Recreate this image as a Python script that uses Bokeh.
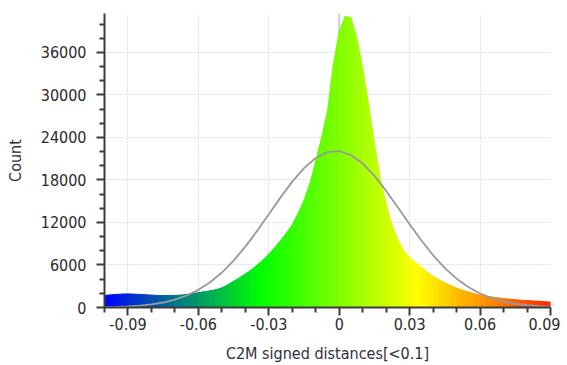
from bokeh.plotting import figure
from bokeh.models import FixedTicker, CustomJSTickFormatter, Span
from bokeh.embed import file_html
from bokeh.resources import INLINE

# ---------------- data ----------------
# histogram envelope (C2M signed distances), sampled every 0.0025 from -0.1
bin_start = -0.1
bin_step = 0.0025
hist_counts = [
    1700, 1780, 1850, 1900, 1920, 1890, 1850, 1800, 1750, 1710,
    1690, 1690, 1710, 1760, 1840, 1950, 2100, 2230, 2360, 2520,
    2780, 3200, 3700, 4200, 4750, 5300, 6000, 6700, 7550, 8450,
    9450, 10500, 11700, 13300, 15100, 17500, 20700, 24000, 27800, 34300,
    39000, 41100, 40900, 38000, 33700, 28700, 23200, 18100, 14600, 11600,
    9600, 8000, 7000, 6300, 5700, 5000, 4400, 3900, 3500, 3100,
    2750, 2450, 2200, 1950, 1750, 1600, 1480, 1360, 1250, 1170,
    1100, 1040, 980, 930, 880, 820, 760,
]

# fitted normal curve, read every 0.005 from -0.1
curve_start = -0.1
curve_step = 0.005
curve_counts = [
    45, 84, 150, 259, 434, 705, 1107, 1689, 2491, 3563,
    4931, 6611, 8588, 10803, 13167, 15543, 17771, 19678, 21106, 21928,
    22068, 21512, 20312, 18577, 16458, 14122, 11737, 9450, 7368, 5565,
    4073, 2886, 1980, 1317, 848, 528, 320, 187, 106,
]

x_ticks = [-0.09, -0.06, -0.03, 0.0, 0.03, 0.06, 0.09]
x_tick_labels = ["-0.09", "-0.06", "-0.03", "0", "0.03", "0.06", "0.09"]
x_minor = [-0.1, -0.08, -0.07, -0.05, -0.04, -0.02, -0.01,
           0.01, 0.02, 0.04, 0.05, 0.07, 0.08]
y_ticks = [0, 6000, 12000, 18000, 24000, 30000, 36000]
y_minor = [2000, 4000, 8000, 10000, 14000, 16000, 20000, 22000,
           26000, 28000, 32000, 34000, 38000, 40000]

# color scale (Blue > Green > Yellow > Red) over the displayed distance range
scale_min, scale_max = -0.1, 0.1
scale_stops = [(0.0, (0, 0, 255)), (1 / 3, (0, 255, 0)),
               (2 / 3, (255, 255, 0)), (1.0, (255, 0, 0))]


def scale_color(v):
    t = (v - scale_min) / (scale_max - scale_min)
    t = min(max(t, 0.0), 1.0)
    for (t0, c0), (t1, c1) in zip(scale_stops[:-1], scale_stops[1:]):
        if t <= t1:
            f = (t - t0) / (t1 - t0)
            r, g, b = (round(a + (bb - a) * f) for a, bb in zip(c0, c1))
            return "#%02x%02x%02x" % (r, g, b)
    return "#ff0000"


hist_x = [bin_start + i * bin_step for i in range(len(hist_counts))]
curve_x = [curve_start + i * curve_step for i in range(len(curve_counts))]

xs, ys, cols = [], [], []
for i in range(len(hist_counts) - 1):
    x0, x1 = hist_x[i], hist_x[i + 1]
    xs.append([x0, x1, x1, x0])
    ys.append([0, 0, hist_counts[i + 1], hist_counts[i]])
    cols.append(scale_color((x0 + x1) / 2))

# ---------------- figure ----------------
FONT = "'DejaVu Sans Condensed', 'DejaVu Sans'"

p = figure(width=560, height=365, x_range=(-0.1, 0.09), y_range=(0, 41500),
           output_backend="svg", toolbar_location=None,
           min_border_left=104, min_border_right=10, min_border_top=13,
           min_border_bottom=57)
p.outline_line_color = None
p.background_fill_color = "white"
p.border_fill_color = "white"

p.add_layout(Span(location=0.0, dimension="height", line_color="#cccccc",
                  line_width=2, level="underlay"))

p.patches(xs, ys, fill_color=cols, line_color=cols, line_width=1)
p.line(curve_x, curve_counts, line_color="#9a9a9a", line_width=1.8)

p.xaxis.ticker = FixedTicker(ticks=x_ticks, minor_ticks=x_minor)
p.yaxis.ticker = FixedTicker(ticks=y_ticks, minor_ticks=y_minor)
p.xaxis.formatter = CustomJSTickFormatter(
    args=dict(tick_vals=x_ticks, tick_labels=x_tick_labels),
    code="""
    let best = 0;
    for (let i = 0; i < tick_vals.length; i++) {
        if (Math.abs(tick_vals[i] - tick) < Math.abs(tick_vals[best] - tick)) best = i;
    }
    return tick_labels[best];
    """)

for ax in (p.xaxis[0], p.yaxis[0]):
    ax.axis_line_color = "#3c3c3c"
    ax.axis_line_width = 2
    ax.major_tick_line_color = "#3c3c3c"
    ax.major_tick_line_width = 2
    ax.minor_tick_line_color = "#3c3c3c"
    ax.minor_tick_line_width = 2
    ax.major_tick_out = 8
    ax.major_tick_in = 0
    ax.minor_tick_out = 5
    ax.minor_tick_in = 0
    ax.major_label_text_font = FONT
    ax.major_label_text_font_size = "16px"
    ax.major_label_text_color = "#2a2a2a"
    ax.axis_label_text_font = FONT
    ax.axis_label_text_font_size = "16px"
    ax.axis_label_text_font_style = "normal"
    ax.axis_label_text_color = "#303040"

p.xaxis.axis_label = "C2M signed distances[<0.1]"
p.yaxis.axis_label = "Count"
p.xaxis.major_label_standoff = 2
p.yaxis.major_label_standoff = 10
p.xaxis.axis_label_standoff = 11
p.yaxis.axis_label_standoff = 13

p.grid.grid_line_color = "#c4c4c4"
p.grid.grid_line_dash = "1 2"
p.grid.grid_line_width = 1

open("out.html", "w").write(file_html(p, INLINE))
